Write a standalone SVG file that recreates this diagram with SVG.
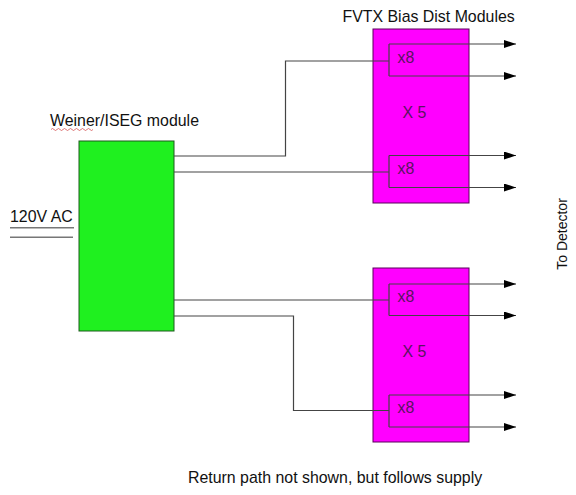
<svg xmlns="http://www.w3.org/2000/svg" width="576" height="495" viewBox="0 0 576 495">
<style>
text{font-family:"Liberation Sans",Arial,sans-serif;font-size:15.9px;fill:#111}
.in{fill:#5a1460}
.mag{fill:#ff00ff;stroke:#5a005a;stroke-width:1}
.grn{fill:#1ff01f;stroke:#1d5a1d;stroke-width:1}
.wire{fill:none;stroke:#444;stroke-width:1.2}
.ac{fill:none;stroke:#777;stroke-width:1.5}
</style>
<defs>
<marker id="arr" viewBox="0 0 12 8" refX="12" refY="4" markerWidth="12" markerHeight="8" markerUnits="userSpaceOnUse" orient="auto">
<path d="M0,0L12,4L0,8Z" fill="#000"/>
</marker>
</defs>
<rect width="576" height="495" fill="#fff"/>
<g id="supply">
<rect class="grn" x="79" y="141" width="95" height="190"/>
<text x="50" y="126">Weiner/ISEG module</text>
<path d="M51,129.5q1.5,-2 3,0t3,0t3,0t3,0t3,0t3,0t3,0t3,0t3,0t3,0t3,0t3,0t3,0t3,0" fill="none" stroke="#d04040" stroke-width="0.7"/>
</g>
<g id="ac-input">
<text x="10" y="221.5">120V AC</text>
<path class="ac" d="M10,227.7H74M10,237.3H73"/>
</g>
<g id="bias-top">
<rect class="mag" x="373" y="29" width="96" height="174"/>
<text x="342.5" y="21.5">FVTX Bias Dist Modules</text>
<text class="in" x="397.5" y="62.5">x8</text>
<text class="in" x="402.5" y="118">X 5</text>
<text class="in" x="397.5" y="174">x8</text>
</g>
<g id="bias-bottom">
<rect class="mag" x="373" y="268" width="96" height="174"/>
<text class="in" x="397.5" y="301.5">x8</text>
<text class="in" x="402.5" y="356.5">X 5</text>
<text class="in" x="397.5" y="412.5">x8</text>
</g>
<g id="labels">
<text x="566.5" y="234" text-anchor="middle" transform="rotate(-90 566.5 234)" style="font-size:14px">To Detector</text>
<text x="188" y="483">Return path not shown, but follows supply</text>
</g>
<g id="connectors">
<path class="wire" d="M174,156H285.5V61H389"/>
<path class="wire" d="M174,172H389"/>
<path class="wire" d="M174,300H389"/>
<path class="wire" d="M174,316H293.5V410.5H389"/>
<path class="wire" d="M389,44V76M389,155.5V187.5M389,284V315.5M389,395V427"/>
<path class="wire" d="M389,44H516" marker-end="url(#arr)"/>
<path class="wire" d="M389,76H516" marker-end="url(#arr)"/>
<path class="wire" d="M389,155.5H516" marker-end="url(#arr)"/>
<path class="wire" d="M389,187.5H516" marker-end="url(#arr)"/>
<path class="wire" d="M389,284H516" marker-end="url(#arr)"/>
<path class="wire" d="M389,315.5H516" marker-end="url(#arr)"/>
<path class="wire" d="M389,395H516" marker-end="url(#arr)"/>
<path class="wire" d="M389,427H516" marker-end="url(#arr)"/>
</g>
</svg>
